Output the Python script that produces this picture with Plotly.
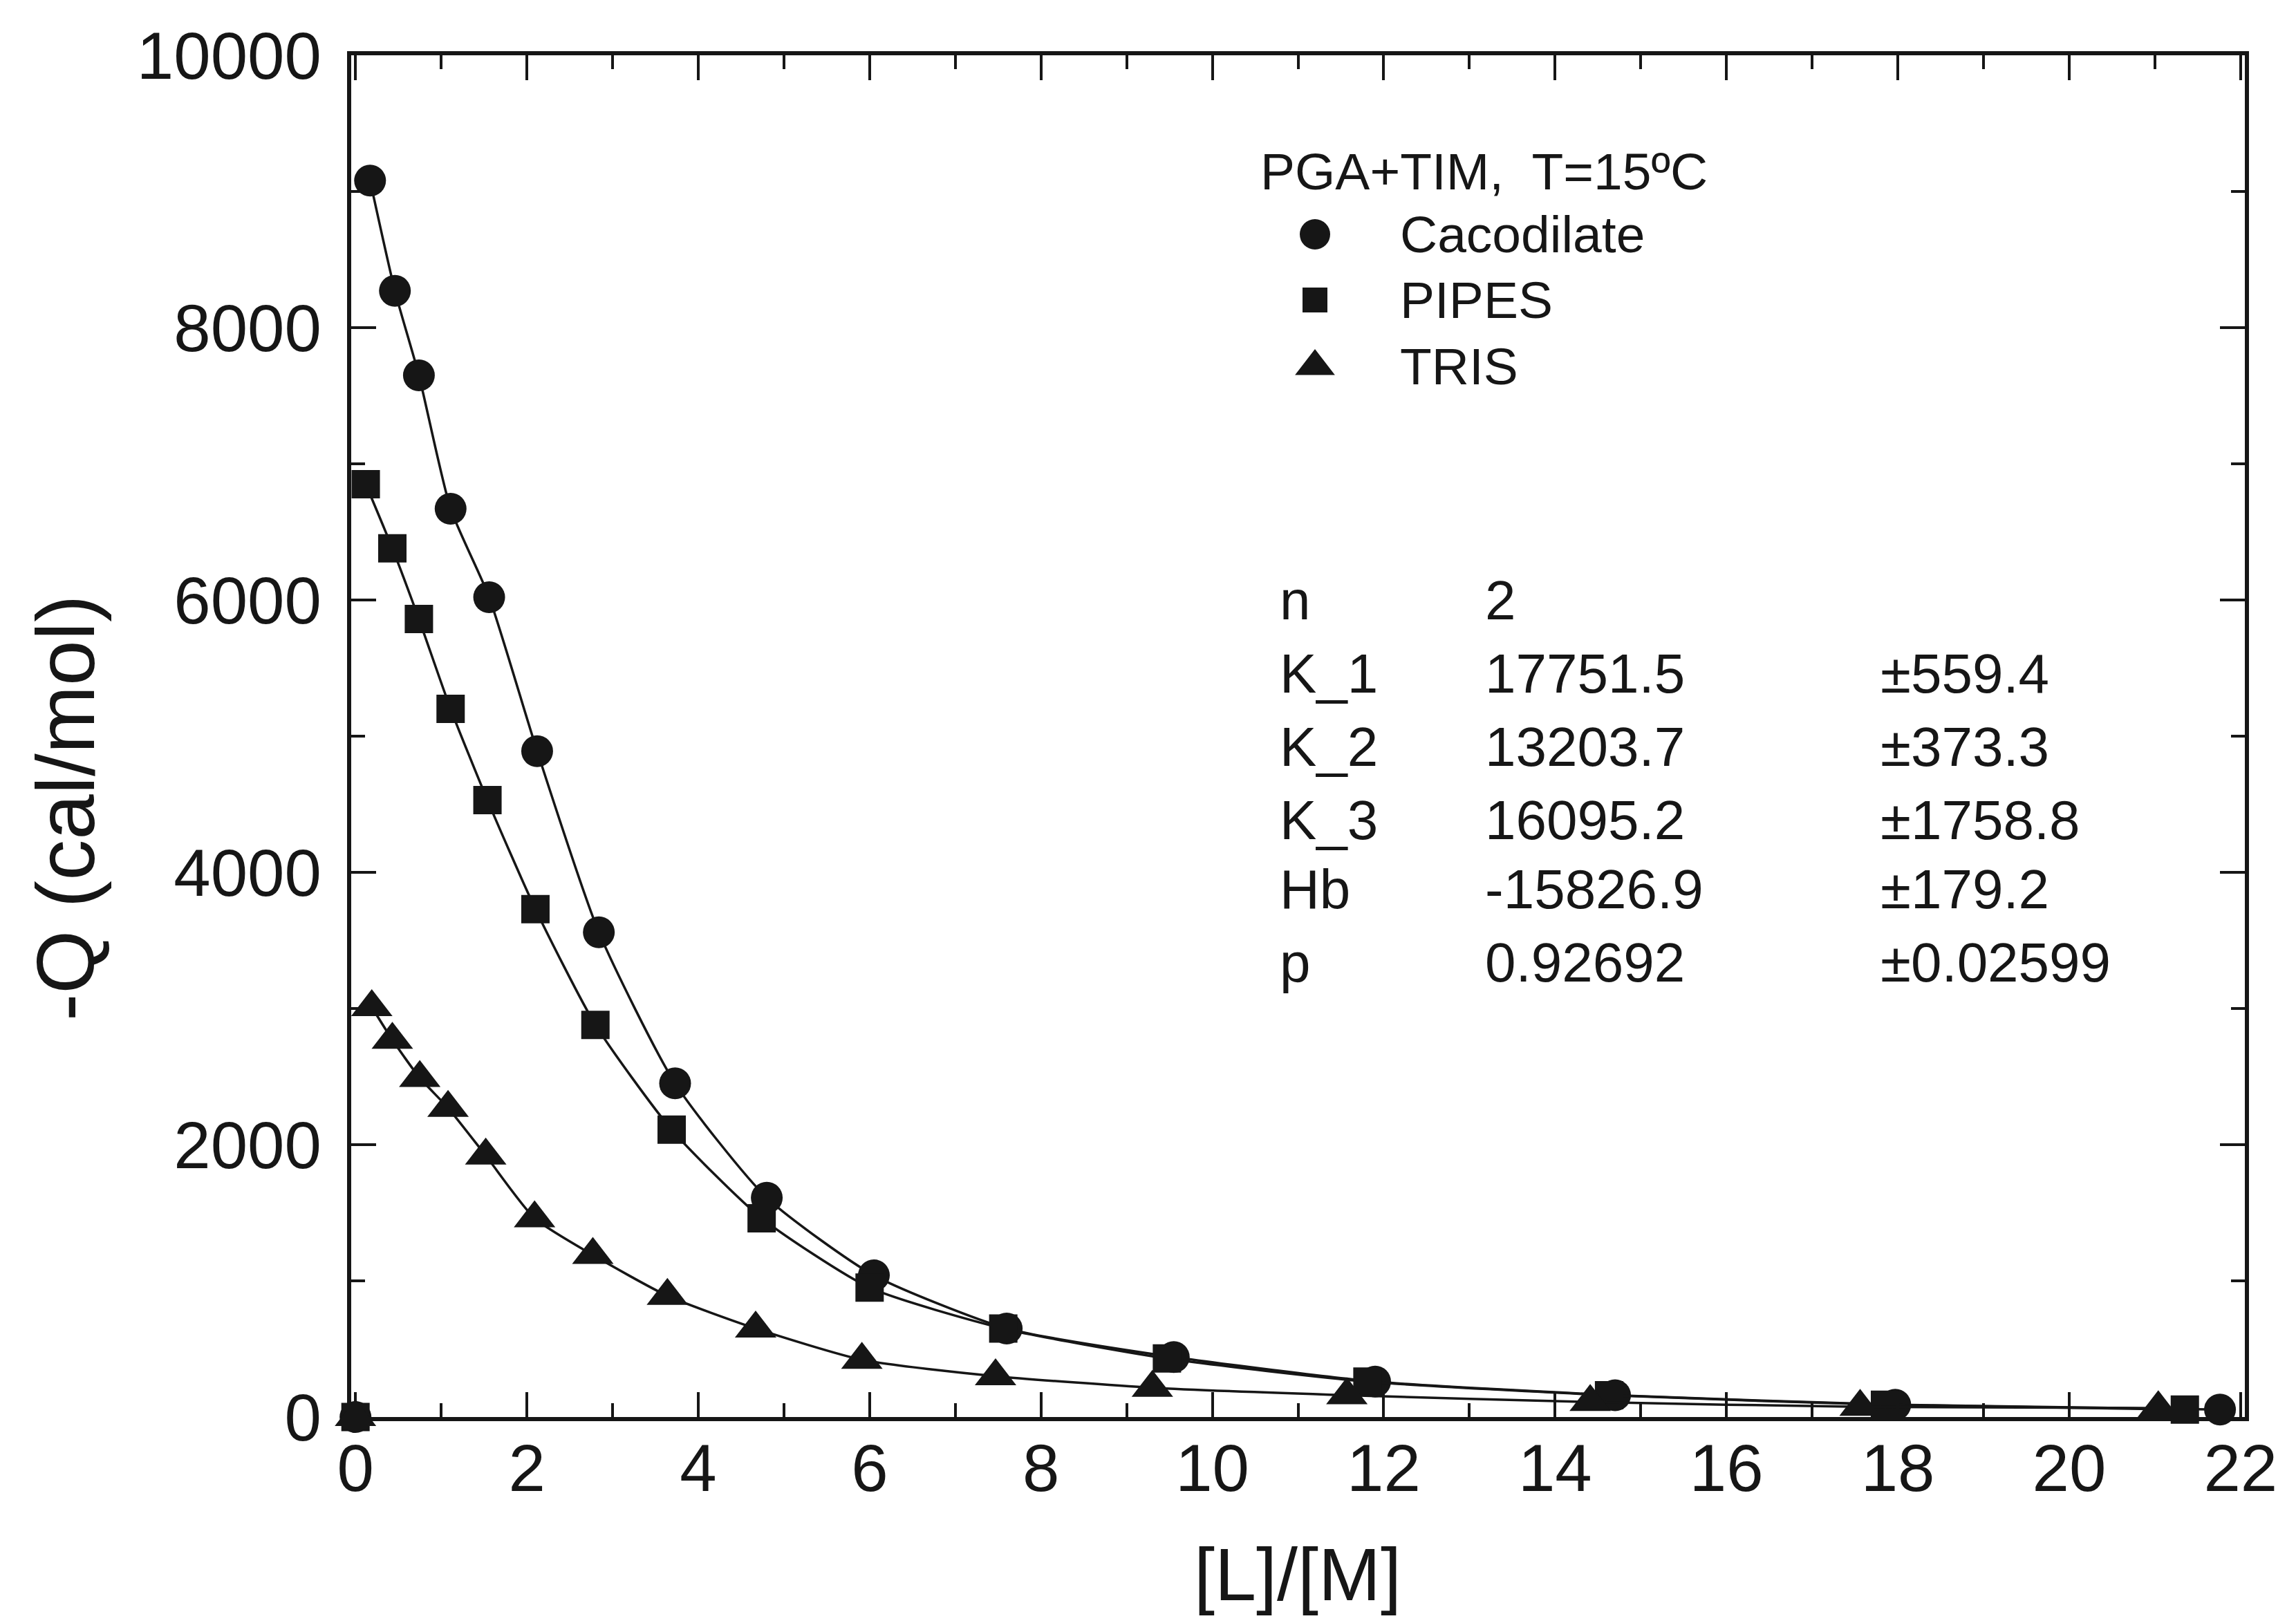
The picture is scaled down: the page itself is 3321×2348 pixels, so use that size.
import plotly.graph_objects as go

# ---- data: heat of binding vs ligand/macromolecule ratio ----
x_cac = [0, 0.17, 0.46, 0.74, 1.11, 1.56, 2.12, 2.84, 3.73, 4.80, 6.05, 7.60, 9.55, 11.90, 14.70, 17.97, 21.76]
q_cac = [0, 9080, 8270, 7650, 6670, 6020, 4890, 3560, 2450, 1610, 1040, 650, 440, 260, 160, 90, 55]

x_pip = [0, 0.12, 0.43, 0.74, 1.11, 1.54, 2.10, 2.80, 3.69, 4.74, 6.00, 7.56, 9.47, 11.81, 14.63, 17.85, 21.35]
q_pip = [0, 6850, 6380, 5860, 5200, 4530, 3730, 2880, 2110, 1460, 950, 650, 430, 260, 160, 90, 55]

x_tris = [0, 0.19, 0.43, 0.75, 1.08, 1.52, 2.09, 2.77, 3.64, 4.67, 5.91, 7.47, 9.30, 11.57, 14.41, 17.56, 21.04]
q_tris = [0, 3010, 2770, 2490, 2270, 1920, 1460, 1190, 890, 650, 420, 300, 215, 160, 110, 75, 65]

series_names = ["Cacodilate", "PIPES", "TRIS"]
series_symbols = ["circle", "square", "triangle-up"]

x_ticks = list(range(0, 23, 2))
y_ticks = list(range(0, 10001, 2000))

fit_labels = ["n", "K_1", "K_2", "K_3", "Hb", "p"]
fit_values = ["2", "17751.5", "13203.7", "16095.2", "-15826.9", "0.92692"]
fit_errors = ["", "±559.4", "±373.3", "±1758.8", "±179.2", "±0.02599"]

header_text = "PGA+TIM,  T=15ºC"

# ---- styling ----
INK = "#161616"
FONT = "Liberation Sans, Arial, Helvetica, sans-serif"
W, H = 3321, 2348
L, R, T, B = 508, 3247, 80, 2050   # plot-area edges in pixels


def px_x(p):
    return (p - L) / (R - L)


def px_y(p):
    return (B - p) / (B - T)


marker_sizes = {"circle": 46, "square": 41, "triangle-up": 52}

fig = go.Figure()

for xs, ys, name, sym in zip([x_cac, x_pip, x_tris], [q_cac, q_pip, q_tris],
                             series_names, series_symbols):
    # fitted curve through the titration points
    fig.add_trace(go.Scatter(
        x=xs[1:], y=ys[1:], mode="lines",
        line=dict(color=INK, width=3.5, shape="spline", smoothing=0.6),
        showlegend=False, hoverinfo="skip", cliponaxis=True))
    # measured points
    fig.add_trace(go.Scatter(
        x=xs, y=ys, mode="markers", name=name,
        marker=dict(symbol=sym, size=marker_sizes[sym], color=INK, opacity=1, line=dict(width=0)),
        showlegend=False, cliponaxis=False))

# symbol key drawn on a hidden unit overlay axis
key_y = [px_y(339), px_y(434), px_y(530)]
for sym, yy, sz in zip(series_symbols, key_y, [44, 36, 50]):
    fig.add_trace(go.Scatter(
        x=[px_x(1902)], y=[yy], mode="markers", xaxis="x2", yaxis="y2",
        marker=dict(symbol=sym, size=sz, color=INK, opacity=1, line=dict(width=0)),
        showlegend=False, hoverinfo="skip", cliponaxis=False))

annotations = []
annotations.append(dict(text=header_text, x=px_x(1821), y=px_y(248), xref="paper", yref="paper",
                        xanchor="left", yanchor="middle", showarrow=False,
                        font=dict(size=75, color=INK, family=FONT)))
for name, yy in zip(series_names, key_y):
    annotations.append(dict(text=name, x=px_x(2023), y=yy, xref="paper", yref="paper",
                            xanchor="left", yanchor="middle", showarrow=False,
                            font=dict(size=75, color=INK, family=FONT)))

row_y = [868, 974, 1080, 1186, 1286, 1392]
for lab, val, err, ry in zip(fit_labels, fit_values, fit_errors, row_y):
    for txt, cx in ((lab, 1849), (val, 2146), (err, 2718)):
        if txt:
            annotations.append(dict(text=txt, x=px_x(cx), y=px_y(ry), xref="paper", yref="paper",
                                    xanchor="left", yanchor="middle", showarrow=False,
                                    font=dict(size=80, color=INK, family=FONT)))

# axis titles
annotations.append(dict(text="-Q (cal/mol)", x=px_x(95), y=px_y(1169), xref="paper", yref="paper",
                        xanchor="center", yanchor="middle", textangle=-90, showarrow=False,
                        font=dict(size=118, color=INK, family=FONT)))
annotations.append(dict(text="[L]/[M]", x=px_x(1877), y=px_y(2340), xref="paper", yref="paper",
                        xanchor="center", yanchor="bottom", showarrow=False,
                        font=dict(size=108, color=INK, family=FONT)))

axis_common = dict(
    showline=True, linecolor=INK, linewidth=6, mirror="ticks",
    ticks="inside", tickcolor=INK, tickwidth=4, ticklen=36,
    showgrid=False, zeroline=False,
    tickfont=dict(size=96, color=INK, family=FONT),
)

fig.update_layout(
    width=W, height=H,
    margin=dict(l=L, r=W - R, t=T, b=H - B, pad=0),
    paper_bgcolor="white", plot_bgcolor="white",
    showlegend=False,
    xaxis=dict(range=[-0.05, 22.05], tickmode="array", tickvals=x_ticks,
               ticktext=[str(v) for v in x_ticks], ticklabelstandoff=-14,
               minor=dict(dtick=1, ticks="inside", ticklen=20, tickwidth=4, tickcolor=INK),
               **axis_common),
    yaxis=dict(range=[0, 10000], tickmode="array", tickvals=y_ticks,
               ticktext=[str(v) for v in y_ticks], ticklabelstandoff=18,
               minor=dict(dtick=1000, ticks="inside", ticklen=20, tickwidth=4, tickcolor=INK),
               **axis_common),
    xaxis2=dict(overlaying="x", range=[0, 1], visible=False, fixedrange=True),
    yaxis2=dict(overlaying="y", range=[0, 1], visible=False, fixedrange=True),
    annotations=annotations,
)

fig.write_html("out.html")
